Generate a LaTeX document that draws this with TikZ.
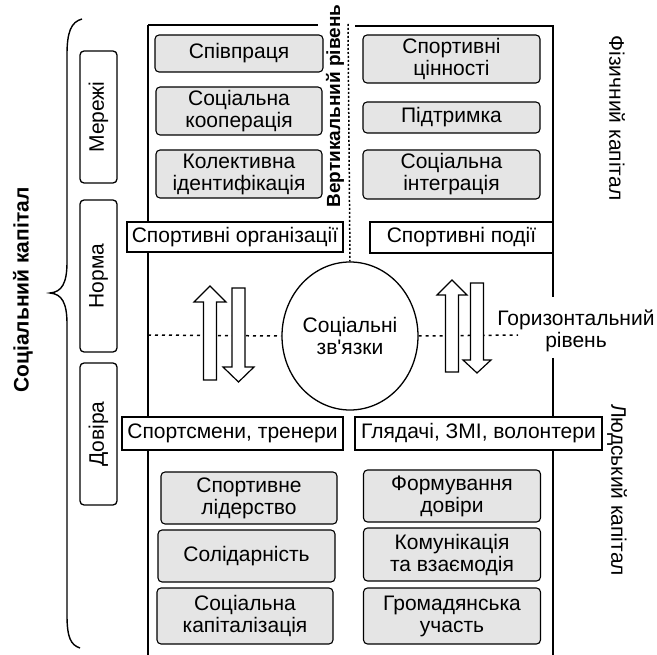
\documentclass[tikz,border=0pt]{standalone}
\usepackage{fontspec}
\setmainfont{Liberation Sans}
\usetikzlibrary{shapes.geometric}

\begin{document}
\begin{tikzpicture}[x=1pt, y=-1pt,
    every node/.style={font=\fontsize{21}{22}\selectfont, inner sep=0pt, align=center},
    greybox/.style={draw, rounded corners=4pt, fill=black!10, line width=1.1pt},
    whitebox/.style={draw, fill=white, line width=1.3pt},
    sidebox/.style={draw, rounded corners=4pt, fill=white, line width=1.3pt, minimum height=37pt, rotate=90},
    frame/.style={line width=1.4pt},
    level/.style={line width=1.5pt, dash pattern=on 2pt off 2pt},
    blockarrow/.style={draw, fill=white, line width=1.2pt}]
      \useasboundingbox (0,0) rectangle (657,655);
      \draw[frame] (82,19) .. controls (71,22) and (67,32) .. (67,55) -- (67,262)
        .. controls (67,283) and (62,292) .. (50,293)
        .. controls (62,294) and (67,303) .. (67,324) -- (67,615)
        .. controls (67,638) and (71,645) .. (80,648);
      \node[font=\fontsize{21}{22}\selectfont\bfseries, rotate=90] (social) at (23,290) {Соціальний капітал};
      \node[sidebox, minimum width=132pt] (nets) at (98.5,117) {Мережі};
      \node[sidebox, minimum width=152pt] (norm) at (98.5,276) {Норма};
      \node[sidebox, minimum width=142pt] (trust) at (98.5,434) {Довіра};
      \draw[frame] (148,25) -- (318,25);
      \draw[frame] (355,26) -- (553,26) -- (553,222);
      \draw[frame] (148,25) -- (148,655);
      \draw[frame] (553,253) -- (553,297);
      \draw[frame] (553,358) -- (553,655);
      \node[font=\fontsize{19}{22}\selectfont\bfseries, rotate=90] (vert) at (335,106) {Вертикальний рівень};
      \node[rotate=-90] (phys) at (617,118) {Фізичний капітал};
      \node[rotate=-90] (human) at (617,490) {Людський капітал};
      \node (horiz) at (576,331) {Горизонтальний\\рівень};
      \node[greybox, minimum width=168pt, minimum height=37pt] (coop) at (239,53.5) {Співпраця};
      \node[greybox, minimum width=166pt, minimum height=48pt] (scoop) at (239,111) {Соціальна\\кооперація};
      \node[greybox, minimum width=166pt, minimum height=48pt] (ident) at (239,174) {Колективна\\ідентифікація};
      \node[greybox, minimum width=177pt, minimum height=48pt] (values) at (451.5,59) {Спортивні\\цінності};
      \node[greybox, minimum width=177pt, minimum height=31pt] (support) at (451.5,117.5) {Підтримка};
      \node[greybox, minimum width=177pt, minimum height=49pt] (integr) at (451.5,174.5) {Соціальна\\інтеграція};
      \node[whitebox, minimum width=216pt, minimum height=30pt] (orgs) at (235,237) {Спортивні організації};
      \node[whitebox, minimum width=183pt, minimum height=31pt] (events) at (461.5,237.5) {Спортивні події};
      \node[draw, ellipse, line width=1.3pt, minimum width=136pt, minimum height=148pt] (links) at (350,336) {Соціальні\\зв\textquotesingle язки};
      \draw[level] (348,24) -- (links.north);
      \draw[level, dash pattern=on 3pt off 4pt] (148,335) -- (links.west);
      \draw[level, dash pattern=on 3pt off 4pt] (links.east) -- (518,335);
      \draw[blockarrow] (203.5,380) -- (203.5,302) -- (194,302) -- (210,286) -- (226,302) -- (216.5,302) -- (216.5,380) -- cycle;
      \draw[blockarrow] (232,288) -- (232,367) -- (223,367) -- (238.5,382) -- (254,367) -- (245,367) -- (245,288) -- cycle;
      \draw[blockarrow] (445.5,372) -- (445.5,295) -- (437,295) -- (452,280) -- (467,295) -- (458.5,295) -- (458.5,372) -- cycle;
      \draw[blockarrow] (470.5,283) -- (470.5,360) -- (463,360) -- (477,373) -- (491,360) -- (483.5,360) -- (483.5,283) -- cycle;
      \node[whitebox, minimum width=221pt, minimum height=33pt] (athletes) at (232.5,433.5) {Спортсмени, тренери};
      \node[whitebox, minimum width=247pt, minimum height=33pt] (viewers) at (478.5,433.5) {Глядачі, ЗМІ, волонтери};
      \node[greybox, minimum width=176pt, minimum height=52pt] (lead) at (249,498) {Спортивне\\лідерство};
      \node[greybox, minimum width=177pt, minimum height=52pt] (solid) at (246.5,556) {Солідарність};
      \node[greybox, minimum width=176pt, minimum height=56pt] (capit) at (245,616) {Соціальна\\капіталізація};
      \node[greybox, minimum width=177pt, minimum height=52pt] (trustb) at (452,496) {Формування\\довіри};
      \node[greybox, minimum width=177pt, minimum height=53pt] (comm) at (452,554.5) {Комунікація\\та взаємодія};
      \node[greybox, minimum width=177pt, minimum height=56pt] (civic) at (452,616) {Громадянська\\участь};
\end{tikzpicture}
\end{document}
